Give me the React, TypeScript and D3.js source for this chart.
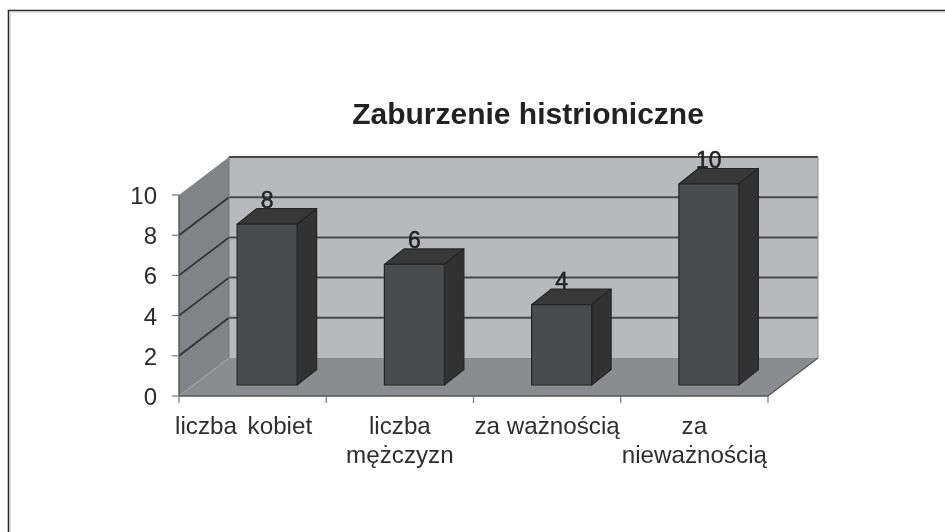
import React from "react";
import * as d3 from "d3";

const title = "Zaburzenie histrioniczne";
const categories = ["liczba kobiet", "liczba mężczyzn", "za ważnością", "za nieważnością"];
const categoryLines = [["liczba kobiet"], ["liczba", "mężczyzn"], ["za ważnością"], ["za", "nieważnością"]];
const values = [8, 6, 4, 10];
const yTicks = [0, 2, 4, 6, 8, 10];
const font = "'Liberation Sans', Arial, sans-serif";

const W = 945, H = 532;
const x = d3.scaleBand<string>().domain(categories).range([179, 768]);
const y = d3.scaleLinear().domain([0, 10]).range([396, 195]);
const DX = 50, DY = -38;
const barW = 60, barOffX = 14.5, barOffY = -11, sideX = 19.5, sideY = -15.5;
const poly = (p: [number, number][]) => p.map(q => q.join(",")).join(" ");

export default function App() {
  const x0 = x.range()[0], x1 = x.range()[1];
  const yBase = y(0), yTop = y(10);
  return (
    <svg width={W} height={H} viewBox={`0 0 ${W} ${H}`} style={{ position: "absolute", left: 0, top: 0, background: "#fff" }}>
      <defs>
        <filter id="soft" x="-2%" y="-2%" width="104%" height="104%">
          <feGaussianBlur stdDeviation="0.6" />
        </filter>
      </defs>
      <g filter="url(#soft)">
        <path d={`M945,10.5H8.5V532`} fill="none" stroke="#2a2a2a" strokeWidth={1.6} />
        <path d={`M945,12H10V532`} fill="none" stroke="#bbb" strokeWidth={0.8} />

        {/* walls and floor */}
        <polygon points={poly([[x0 + DX, yTop + DY], [x1 + DX, yTop + DY], [x1 + DX, yBase + DY], [x0 + DX, yBase + DY]])} fill="#b8b9bc" />
        <polygon points={poly([[x0, yTop], [x0 + DX, yTop + DY], [x0 + DX, yBase + DY], [x0, yBase]])} fill="#828386" />
        <polygon points={poly([[x0, yBase], [x0 + DX, yBase + DY], [x1 + DX, yBase + DY], [x1, yBase]])} fill="#8b8c8f" />

        {/* gridlines */}
        {yTicks.filter(t => t > 0).map(t => (
          <g key={t}>
            <line x1={x0 + DX} x2={x1 + DX} y1={y(t) + DY} y2={y(t) + DY} stroke="#4a4a4c" strokeWidth={t === 10 ? 1.8 : 2} />
            {t < 10 && <line x1={x0} x2={x0 + DX} y1={y(t)} y2={y(t) + DY} stroke="#333" strokeWidth={1.8} />}
          </g>
        ))}
        <line x1={x1 + DX} x2={x1 + DX} y1={yTop + DY} y2={yBase + DY} stroke="#8a8a8c" strokeWidth={1} />
        <line x1={x0 + DX} x2={x0 + DX} y1={yTop + DY} y2={yBase + DY} stroke="#77787a" strokeWidth={1} />
        <line x1={x0} x2={x0 + DX} y1={yBase} y2={yBase + DY} stroke="#a5a6a8" strokeWidth={1} />
        <line x1={x1} x2={x1 + DX} y1={yBase} y2={yBase + DY} stroke="#55565a" strokeWidth={1.2} />

        {/* axes */}
        <line x1={x0} x2={x0} y1={yTop} y2={yBase} stroke="#555" strokeWidth={1.4} />
        <line x1={x0} x2={x1} y1={yBase} y2={yBase} stroke="#555" strokeWidth={1.6} />
        {yTicks.map(t => (
          <g key={t}>
            <line x1={x0 - 7} x2={x0} y1={y(t)} y2={y(t)} stroke="#777" strokeWidth={1.2} />
            <text x={157} y={y(t) + 9} textAnchor="end" fontFamily={font} fontSize={24} fill="#2b2b2b">{t}</text>
          </g>
        ))}
        {[...categories.map(c => x(c)!), x1].map((p, i) => (
          <line key={i} x1={p} x2={p} y1={yBase} y2={yBase + 7} stroke="#777" strokeWidth={1.2} />
        ))}

        {/* bars */}
        {categories.map((c, i) => {
          const cx = x(c)! + x.bandwidth() / 2;
          const l = cx - barW / 2 + barOffX, r = l + barW;
          const b = yBase + barOffY, t = y(values[i]) + barOffY;
          return (
            <g key={c} stroke="#262626" strokeWidth={1.2} strokeLinejoin="round">
              <polygon points={poly([[l, t], [r, t], [r + sideX, t + sideY], [l + sideX, t + sideY]])} fill="#383838" />
              <polygon points={poly([[r, t], [r + sideX, t + sideY], [r + sideX, b + sideY], [r, b]])} fill="#333333" />
              <rect x={l} y={t} width={barW} height={b - t} fill="#4a4b4d" />
              <text x={l + barW / 2} y={t - 16} textAnchor="middle" fontFamily={font} fontSize={23} fill="#222" stroke="#222" strokeWidth={0.5}>{values[i]}</text>
            </g>
          );
        })}

        {/* category labels */}
        {categories.map((c, i) => {
          const cx = x(c)! + x.bandwidth() / 2 - (i === 0 ? 9 : 0);
          return categoryLines[i].map((ln, j) => (
            <text key={ln} x={cx} y={433.5 + j * 29.5} textAnchor="middle" fontFamily={font} fontSize={24.2} wordSpacing={i === 0 ? 4 : 0} fill="#2f2f2f">{ln}</text>
          ));
        })}

        <text x={528} y={124} textAnchor="middle" fontFamily={font} fontSize={30} fontWeight="bold" fill="#222">{title}</text>
      </g>
    </svg>
  );
}
